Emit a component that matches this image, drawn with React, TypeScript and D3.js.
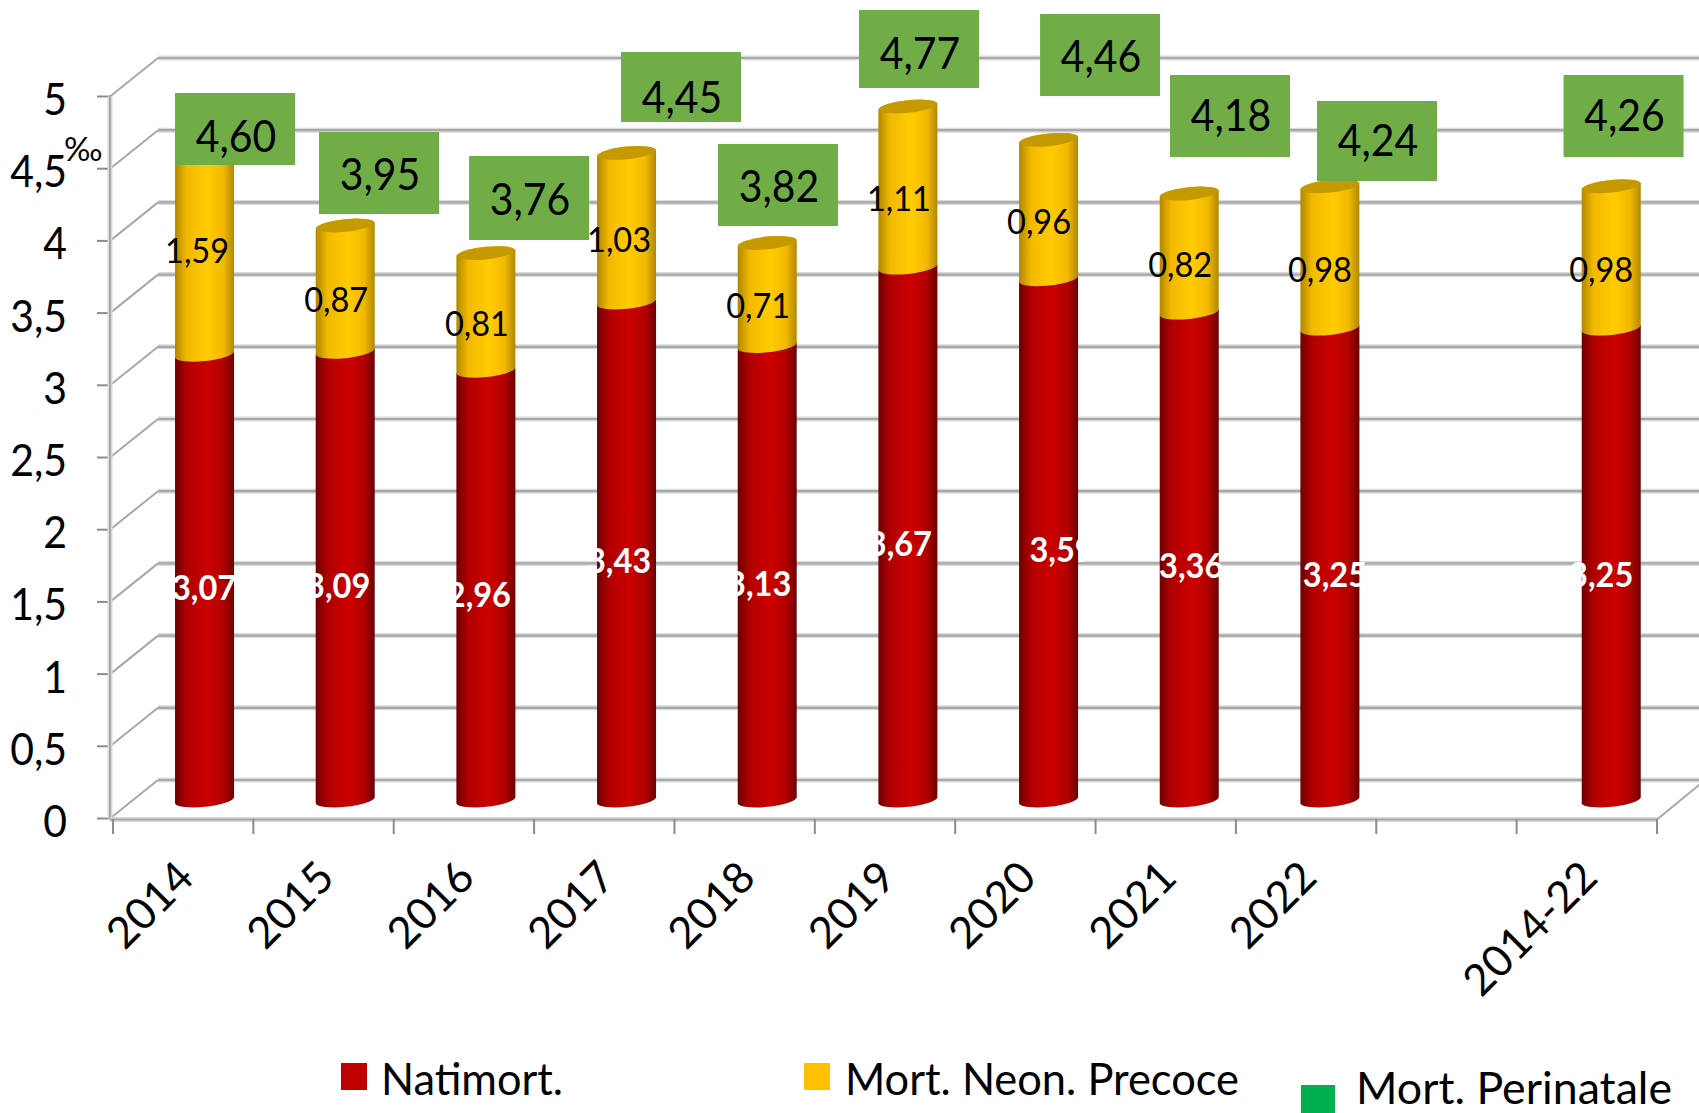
import React from "react";
import * as d3 from "d3";

const categories = ["2014", "2015", "2016", "2017", "2018", "2019", "2020", "2021", "2022", "", "2014-22"];
const natimort = [3.07, 3.09, 2.96, 3.43, 3.13, 3.67, 3.59, 3.36, 3.25, null, 3.25];
const neonatale = [1.59, 0.87, 0.81, 1.03, 0.71, 1.11, 0.96, 0.82, 0.98, null, 0.98];
const perinatale = [4.6, 3.95, 3.76, 4.45, 3.82, 4.77, 4.46, 4.18, 4.24, null, 4.26];
const yTicks = [0, 0.5, 1, 1.5, 2, 2.5, 3, 3.5, 4, 4.5, 5];
const legendNames = ["Natimort.", "Mort. Neon. Precoce", "Mort. Perinatale"];

// Layout of the hand-placed data labels, separate from the values.
const boxDx = [30.5, 33.8, 43.2, 54.5, 10.8, 11.1, 51.5, 40.8, 47.1, 0, 12.3];
const boxTop = [93, 132, 156, 52, 144, 10, 14, 75, 101, 0, 75];
const boxH = [72, 82, 84, 70, 82, 78, 82, 82, 80, 0, 82];
const totalBase = [152, 190, 215, 113, 202, 69, 72, 131, 156, 0, 131];
const midDx = [-7.5, -9, -9, -7.5, -9, -9, -9.5, -9, -10, 0, -10];
const midBase = [263, 312, 336, 252, 318, 211, 234, 277, 282, 0, 282];
const lowDx = [-0.5, -7, -7, -7.5, -8, -8, 13, 2, 5, 0, -10];
const lowBase = [600, 598, 607, 573, 596, 556, 562, 578, 587, 0, 587];

const FONT = "Lato, Carlito, Calibri, sans-serif";
const fmt = (v: number) => v.toFixed(2).replace(".", ",");
const GRID = "#A8A8A8";
const DX = 48;
const DY = 38.5;
const R = 29.5;
const TILT = 3;

const xTick = d3.scaleBand<string>().domain(categories).range([113, 1657]);
const xBar = d3.scaleBand<string>().domain(categories).range([134.2, 134.2 + 11 * 140.67]);
const yAxis = d3.scaleLinear().domain([0, 5]).range([818.5, 96.5]);
const yBar = d3.scaleLinear().domain([0, 5]).range([800.5, 800.5 - 5 * 145.2]);

function segment(cx: number, y0: number, y1: number) {
  const arc = (x: number, y: number) => `A${R + 0.3} 7 -6 0 0 ${x} ${y}`;
  return `M${cx - R} ${y0 + TILT}` + arc(cx + R, y0 - TILT) + `L${cx + R} ${y1 - TILT}` + arc(cx - R, y1 + TILT) + "Z";
}

function cap(cx: number, y: number) {
  return (
    `M${cx - R} ${y + TILT}A${R + 0.3} 7 -6 0 1 ${cx + R} ${y - TILT}` +
    `A${R + 0.3} 7 -6 0 1 ${cx - R} ${y + TILT}Z`
  );
}

function Shade({ id, edge, mid, hi }: { id: string; edge: string; mid: string; hi: string }) {
  return (
    <linearGradient id={id} x1="0" x2="1" y1="0" y2="0">
      <stop offset="0" stopColor={edge} />
      <stop offset="0.2" stopColor={mid} />
      <stop offset="0.55" stopColor={hi} />
      <stop offset="0.82" stopColor={mid} />
      <stop offset="1" stopColor={edge} />
    </linearGradient>
  );
}

// Narrowed numerals: the reference face is taller for its width than Lato.
function Num({ x, y, size, sx = 0.93, anchor = "middle", fill = "#000", weight = 400, children }: any) {
  return (
    <text
      transform={`translate(${x},${y}) scale(${sx},1)`}
      textAnchor={anchor}
      fontSize={size}
      fill={fill}
      fontWeight={weight}
    >
      {children}
    </text>
  );
}

export default function App() {
  const barIdx = categories.map((_, i) => i).filter((i) => natimort[i] !== null);
  const cxOf = (i: number) => xBar(categories[i])! + xBar.bandwidth() / 2;
  return (
    <svg
      width={1699}
      height={1113}
      viewBox="0 0 1699 1113"
      style={{ position: "absolute", left: 0, top: 0, fontFamily: FONT }}
    >
      <defs>
        <Shade id="red" edge="#6E0000" mid="#B00000" hi="#CC0000" />
        <Shade id="yel" edge="#B08800" mid="#F2B900" hi="#FFCC00" />
      </defs>

      {/* back wall gridlines and side wall diagonals */}
      {yTicks.map((t) => {
        const y = yAxis(t);
        return (
          <g key={t} fill="none">
            <line x1={110 + DX} x2={1699} y1={y - DY} y2={y - DY} stroke="#DADADA" strokeWidth={5} />
            <line x1={110} x2={110 + DX} y1={y} y2={y - DY} stroke={GRID} strokeWidth={2} />
            <line x1={110 + DX} x2={1699} y1={y - DY} y2={y - DY} stroke={GRID} strokeWidth={2.2} />
            <line x1={97} x2={110} y1={y} y2={y} stroke="#8C8C8C" strokeWidth={2} />
          </g>
        );
      })}
      <line x1={110} x2={110} y1={yAxis(5)} y2={yAxis(0)} stroke="#DADADA" strokeWidth={5} />
      <line x1={110} x2={110} y1={yAxis(5)} y2={yAxis(0)} stroke={GRID} strokeWidth={2} />
      <line x1={110} x2={1657} y1={yAxis(0) + 1} y2={yAxis(0) + 1} stroke="#DADADA" strokeWidth={5} />
      <line x1={110} x2={1657} y1={yAxis(0) + 1} y2={yAxis(0) + 1} stroke={GRID} strokeWidth={2} />
      <line x1={1657} x2={1657 + DX} y1={yAxis(0) + 1} y2={yAxis(0) - DY} stroke={GRID} strokeWidth={2} />
      {categories.map((c, i) => (
        <line key={i} x1={xTick(c)} x2={xTick(c)} y1={819} y2={834} stroke="#8C8C8C" strokeWidth={2} />
      ))}
      <line x1={1657} x2={1657} y1={819} y2={834} stroke="#8C8C8C" strokeWidth={2} />

      {/* cylinders */}
      {barIdx.map((i) => {
        const cx = cxOf(i);
        const a = natimort[i] as number;
        const b = neonatale[i] as number;
        return (
          <g key={i}>
            <path d={segment(cx, yBar(0), yBar(a))} fill="url(#red)" />
            <path d={segment(cx, yBar(a), yBar(a + b))} fill="url(#yel)" />
            <path d={cap(cx, yBar(a + b))} fill="#C49A00" />
          </g>
        );
      })}

      {/* perinatal labels */}
      {barIdx.map((i) => {
        const mid = cxOf(i) + boxDx[i];
        return (
          <g key={i}>
            <rect x={mid - 60} y={boxTop[i]} width={120} height={boxH[i]} fill="#70AD47" />
            <Num x={mid + 1} y={totalBase[i]} size={44}>
              {fmt(perinatale[i] as number)}
            </Num>
          </g>
        );
      })}

      {/* segment labels */}
      {barIdx.map((i) => (
        <g key={i}>
          <Num x={cxOf(i) + midDx[i]} y={midBase[i]} size={35}>
            {fmt(neonatale[i] as number)}
          </Num>
          <Num x={cxOf(i) + lowDx[i]} y={lowBase[i]} size={35} fill="#fff" weight={700}>
            {fmt(natimort[i] as number)}
          </Num>
        </g>
      ))}

      {/* value axis */}
      {yTicks.map((t) => (
        <Num key={t} x={67} y={yAxis(t) + 18.5} size={44} anchor="end">
          {String(t).replace(".", ",")}
        </Num>
      ))}
      <text x={64} y={161} fontSize={33} fill="#000">‰</text>

      {/* category axis */}
      {categories.map((c, i) =>
        c ? (
          <text
            key={i}
            textAnchor="end"
            fontSize={43.5}
            fill="#000"
            transform={`translate(${xTick(c)! + xTick.bandwidth() / 2 + 13},${880}) rotate(-45)`}
          >
            {c}
          </text>
        ) : null
      )}

      {/* legend */}
      <rect x={341} y={1063} width={26} height={27} fill="#C00000" />
      <text x={381} y={1095} fontSize={44} fill="#000" textLength={182} lengthAdjust="spacingAndGlyphs">{legendNames[0]}</text>
      <rect x={804} y={1063} width={26} height={27} fill="#FFC000" />
      <text x={845} y={1095} fontSize={44} fill="#000" textLength={394} lengthAdjust="spacingAndGlyphs">{legendNames[1]}</text>
      <rect x={1301} y={1085} width={34} height={28} fill="#00B050" />
      <text x={1356} y={1104} fontSize={44} fill="#000" textLength={316} lengthAdjust="spacingAndGlyphs">{legendNames[2]}</text>
    </svg>
  );
}
